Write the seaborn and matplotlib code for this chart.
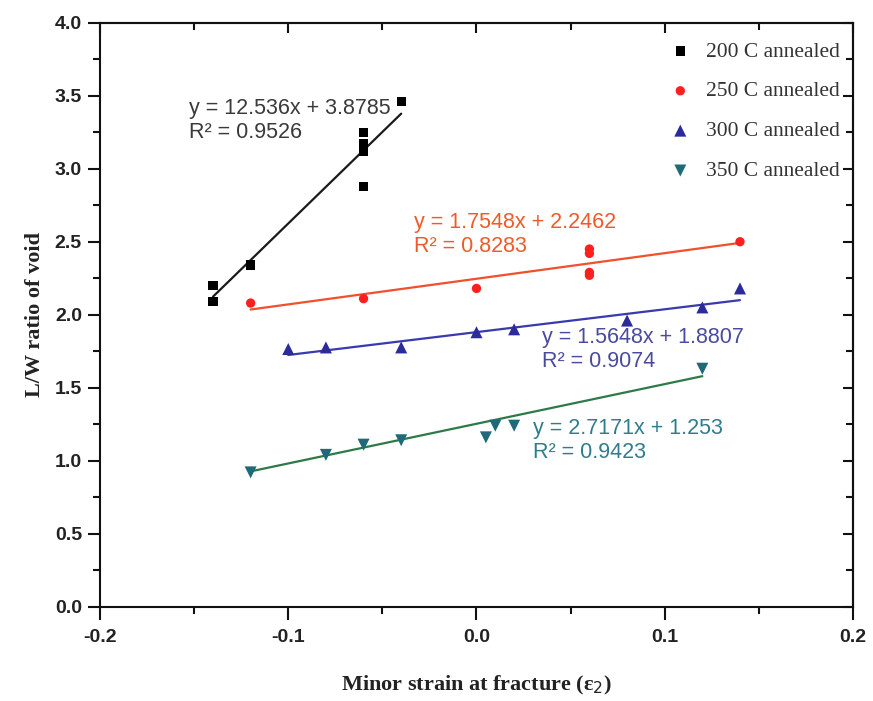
import matplotlib
matplotlib.use("Agg")
import matplotlib.pyplot as plt
from matplotlib.ticker import MultipleLocator, FormatStrFormatter
import numpy as np
import pandas as pd
import seaborn as sns

# Measured void shape vs. minor strain, per annealing temperature
labels = ["200 C annealed", "250 C annealed", "300 C annealed", "350 C annealed"]

x_200 = [-0.14, -0.14, -0.12, -0.06, -0.06, -0.06, -0.06, -0.04]
y_200 = [2.20, 2.09, 2.34, 3.25, 3.17, 3.12, 2.88, 3.46]

x_250 = [-0.12, -0.06, 0.00, 0.06, 0.06, 0.06, 0.06, 0.14]
y_250 = [2.08, 2.11, 2.18, 2.45, 2.42, 2.29, 2.27, 2.50]

x_300 = [-0.10, -0.08, -0.04, 0.00, 0.02, 0.08, 0.12, 0.14]
y_300 = [1.765, 1.776, 1.776, 1.88, 1.90, 1.96, 2.05, 2.18]

x_350 = [-0.12, -0.08, -0.06, -0.04, 0.005, 0.01, 0.02, 0.12]
y_350 = [0.92, 1.04, 1.11, 1.14, 1.16, 1.24, 1.24, 1.63]

# Linear trend lines: slope, intercept, R^2
slopes = [12.536, 1.7548, 1.5648, 2.7171]
intercepts = [3.8785, 2.2462, 1.8807, 1.253]
slope_txt = ["12.536", "1.7548", "1.5648", "2.7171"]
intercept_txt = ["3.8785", "2.2462", "1.8807", "1.253"]
r2_txt = ["0.9526", "0.8283", "0.9074", "0.9423"]

xs = [x_200, x_250, x_300, x_350]
ys = [y_200, y_250, y_300, y_350]

marker_colors = ["#000000", "#ff1f1f", "#2b2b9c", "#1f6a78"]
line_colors = ["#1a1a1a", "#f0502c", "#3a3aae", "#2c7a48"]
eq_colors = ["#3a3a3a", "#f05a2a", "#4a4aa0", "#2f7d8c"]
markers = ["s", "o", "^", "v"]
marker_sizes = [45, 45, 75, 75]
eq_pos = [(-0.153, 3.33), (-0.033, 2.55), (0.035, 1.76), (0.030, 1.14)]

sns.set_theme(style="white")
plt.rcParams["font.family"] = ["Liberation Sans", "DejaVu Sans"]

fig = plt.figure(figsize=(8.73, 7.01), dpi=100)
ax = fig.add_axes([0.1146, 0.1345, 0.8624, 0.8331])

frames = []
for lab, xv, yv in zip(labels, xs, ys):
    frames.append(pd.DataFrame({"strain": xv, "ratio": yv, "series": lab}))
df = pd.concat(frames, ignore_index=True)

for i, lab in enumerate(labels):
    sub = df[df["series"] == lab]
    x0, x1 = min(xs[i]), max(xs[i])
    fit = pd.DataFrame({"strain": [x0, x1],
                        "ratio": [slopes[i] * x0 + intercepts[i],
                                  slopes[i] * x1 + intercepts[i]]})
    sns.lineplot(data=fit, x="strain", y="ratio", ax=ax, color=line_colors[i],
                 linewidth=1.6, legend=False, zorder=2)
    sns.scatterplot(data=sub, x="strain", y="ratio", ax=ax, marker=markers[i],
                    color=marker_colors[i], s=marker_sizes[i], edgecolor="none",
                    label=lab, zorder=3)
    ex, ey = eq_pos[i]
    ax.text(ex, ey, f"y = {slope_txt[i]}x + {intercept_txt[i]}\nR² = {r2_txt[i]}",
            color=eq_colors[i], fontsize=15.5, ha="left", va="center",
            linespacing=1.2, family=["Liberation Sans", "DejaVu Sans"])

ax.set_xlim(-0.2, 0.2)
ax.set_ylim(0.0, 4.0)
ax.xaxis.set_major_locator(MultipleLocator(0.1))
ax.xaxis.set_minor_locator(MultipleLocator(0.05))
ax.yaxis.set_major_locator(MultipleLocator(0.5))
ax.yaxis.set_minor_locator(MultipleLocator(0.25))
ax.xaxis.set_major_formatter(FormatStrFormatter("%.1f"))
ax.yaxis.set_major_formatter(FormatStrFormatter("%.1f"))

for sp in ax.spines.values():
    sp.set_visible(True)
    sp.set_color("#111111")
    sp.set_linewidth(1.5)

ax.tick_params(axis="both", which="major", direction="out", length=9, width=1.5,
               color="#111111", labelsize=14, pad=4, bottom=True, left=True)
ax.tick_params(axis="x", which="major", pad=7)
ax.tick_params(axis="both", which="minor", direction="out", length=5, width=1.5,
               color="#111111", bottom=True, left=True)
for t in ax.get_xticklabels() + ax.get_yticklabels():
    t.set_fontweight("bold")
    t.set_color("#222222")

# Mirrored inward ticks on top and right
top = ax.secondary_xaxis("top")
top.xaxis.set_major_locator(MultipleLocator(0.1))
top.xaxis.set_minor_locator(MultipleLocator(0.05))
top.tick_params(which="major", direction="in", length=7, width=1.5, labeltop=False, color="#111111")
top.tick_params(which="minor", direction="in", length=5, width=1.5, color="#111111")
top.spines["top"].set_linewidth(1.5)
right = ax.secondary_yaxis("right")
right.yaxis.set_major_locator(MultipleLocator(0.5))
right.yaxis.set_minor_locator(MultipleLocator(0.25))
right.tick_params(which="major", direction="in", length=7, width=1.5, labelright=False, color="#111111")
right.tick_params(which="minor", direction="in", length=5, width=1.5, color="#111111")
right.spines["right"].set_linewidth(1.5)

ax.set_xlabel("Minor strain at fracture (ε$_2$)", fontsize=16, fontweight="bold",
              family=["Liberation Serif", "DejaVu Serif"], color="#222222", labelpad=20)
ax.set_ylabel("L/W ratio of void", fontsize=16, fontweight="bold",
              family=["Liberation Serif", "DejaVu Serif"], color="#222222", labelpad=7)

leg = ax.legend(loc="upper right", bbox_to_anchor=(1.0, 0.99), frameon=False,
                prop={"family": ["Liberation Serif", "DejaVu Serif"], "size": 15.5},
                handletextpad=0.6, labelspacing=0.92, borderaxespad=0.2,
                markerscale=1.0, handlelength=1.2)
for t in leg.get_texts():
    t.set_color("#333333")

fig.savefig("out.png", dpi=100)
